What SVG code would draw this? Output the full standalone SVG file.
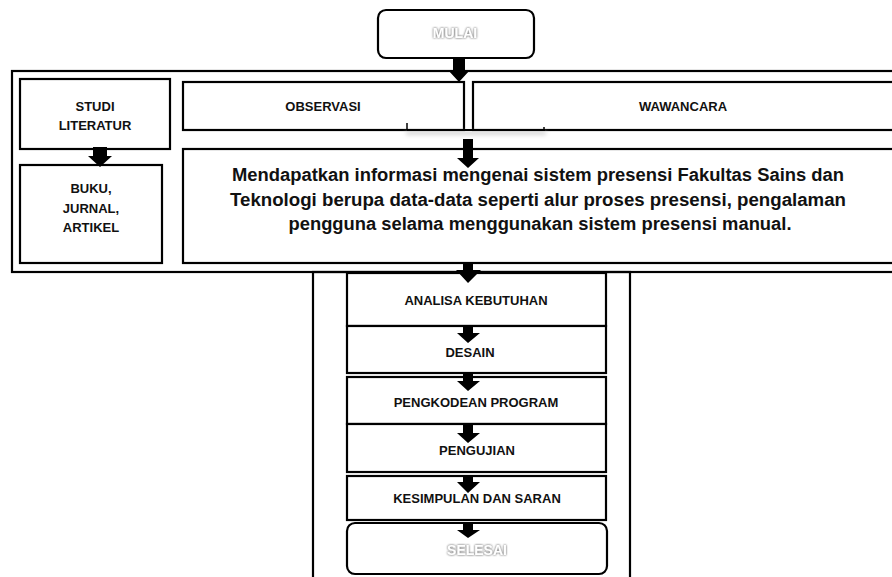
<svg xmlns="http://www.w3.org/2000/svg" width="892" height="577" viewBox="0 0 892 577">
  <defs>
    <style>
      .box { fill: #fff; stroke: #000; stroke-width: 2.2; }
      .frame { fill: none; stroke: #000; stroke-width: 2.2; }
      .lbl { font-family: "Liberation Sans", Arial, sans-serif; font-weight: bold; font-size: 13px; fill: #111; text-anchor: middle; }
      .big { font-family: "Liberation Sans", Arial, sans-serif; font-weight: bold; font-size: 18px; fill: #111; text-anchor: middle; }
      .term { font-family: "Liberation Sans", Arial, sans-serif; font-weight: bold; font-size: 14px; fill: #fff; text-anchor: middle; }
      .arrow { fill: #000; }
    </style>
    <filter id="glow" x="-20%" y="-40%" width="140%" height="180%">
      <feGaussianBlur in="SourceAlpha" stdDeviation="0.9" result="b"/>
      <feFlood flood-color="#909090"/>
      <feComposite in2="b" operator="in" result="s"/>
      <feMerge><feMergeNode in="s"/><feMergeNode in="s"/><feMergeNode in="SourceGraphic"/></feMerge>
    </filter>
    <filter id="soft" x="-10%" y="-100%" width="120%" height="300%">
      <feGaussianBlur stdDeviation="2"/>
    </filter>
  </defs>

  <rect width="892" height="577" fill="#fff"/>

  <!-- tall frame around the development stages -->
  <g id="stage-frame">
    <rect class="frame" x="313" y="272" width="317" height="326"/>
  </g>

  <!-- outer frame around the data collection phase -->
  <g id="collection-frame">
    <rect class="frame" x="12" y="71" width="900" height="201"/>
  </g>

  <g id="mulai">
    <rect class="box" x="378" y="10" width="156" height="48" rx="8"/>
    <text class="term" x="455" y="38" filter="url(#glow)">MULAI</text>
  </g>

  <g id="studi-literatur">
    <rect class="box" x="20" y="79" width="150" height="70"/>
    <text class="lbl" x="95" y="111">STUDI</text>
    <text class="lbl" x="95" y="130">LITERATUR</text>
  </g>

  <g id="buku">
    <rect class="box" x="20" y="165" width="142" height="98"/>
    <text class="lbl" x="91" y="193">BUKU,</text>
    <text class="lbl" x="91" y="213">JURNAL,</text>
    <text class="lbl" x="91" y="232">ARTIKEL</text>
  </g>

  <g id="observasi">
    <rect class="box" x="183" y="82" width="281" height="48"/>
    <text class="lbl" x="323" y="111">OBSERVASI</text>
  </g>

  <g id="wawancara">
    <rect class="box" x="473" y="82" width="440" height="48"/>
    <text class="lbl" x="683" y="111">WAWANCARA</text>
  </g>

  <g id="informasi">
    <rect class="box" x="183" y="149" width="730" height="114"/>
    <text class="big" x="538" y="181" textLength="612" lengthAdjust="spacingAndGlyphs">Mendapatkan informasi mengenai sistem presensi Fakultas Sains dan</text>
    <text class="big" x="538" y="206" textLength="616" lengthAdjust="spacingAndGlyphs">Teknologi berupa data-data seperti alur proses presensi, pengalaman</text>
    <text class="big" x="540" y="230" textLength="503" lengthAdjust="spacingAndGlyphs">pengguna selama menggunakan sistem presensi manual.</text>
  </g>

  <g id="analisa">
    <rect class="box" x="347" y="273" width="259" height="53"/>
    <text class="lbl" x="476" y="305">ANALISA KEBUTUHAN</text>
  </g>

  <g id="desain">
    <rect class="box" x="347" y="326" width="259" height="47"/>
    <text class="lbl" x="470" y="357">DESAIN</text>
  </g>

  <g id="pengkodean">
    <rect class="box" x="347" y="377" width="259" height="47"/>
    <text class="lbl" x="476" y="407">PENGKODEAN PROGRAM</text>
  </g>

  <g id="pengujian">
    <rect class="box" x="347" y="424" width="259" height="48"/>
    <text class="lbl" x="477" y="455">PENGUJIAN</text>
  </g>

  <g id="kesimpulan">
    <rect class="box" x="347" y="476" width="259" height="44"/>
    <text class="lbl" x="477" y="503">KESIMPULAN DAN SARAN</text>
  </g>

  <g id="selesai">
    <rect class="box" x="347" y="523" width="260" height="51" rx="8"/>
    <text class="term" x="477" y="555" filter="url(#glow)">SELESAI</text>
  </g>

  <!-- block arrows and the join bracket under observation/interview -->
  <g id="connectors">
    <rect x="406" y="131" width="140" height="4" fill="#bbb" opacity="0.6" filter="url(#soft)"/>
    <line x1="407" y1="130" x2="545" y2="130" stroke="#000" stroke-width="2"/>
    <line x1="407" y1="123" x2="407" y2="130" stroke="#000" stroke-width="1.5"/>
    <line x1="544" y1="127" x2="544" y2="130" stroke="#000" stroke-width="1.5"/>

    <path class="arrow" d="M453 58 H465 V70 H470 L459 82 L448 70 H453 Z"/>
    <path class="arrow" d="M463 139 H473 V158 H479 L468 168 L457 158 H463 Z"/>
    <path class="arrow" d="M93 147 H107 V156 H112 L100 167 L88 156 H93 Z"/>
    <path class="arrow" d="M463 263 H473 V270 H481 L468 283 L456 270 H463 Z"/>
    <path class="arrow" d="M463 326 H473 V333 H480 L468 343 L457 333 H463 Z"/>
    <path class="arrow" d="M463 373 H473 V381 H480 L468 391 L457 381 H463 Z"/>
    <path class="arrow" d="M463 424 H473 V433 H480 L468 443 L457 433 H463 Z"/>
    <path class="arrow" d="M463 476 H473 V482 H480 L468 493 L457 482 H463 Z"/>
    <path class="arrow" d="M463 522 H473 V530 H480 L468 538 L457 530 H463 Z"/>
  </g>
</svg>
